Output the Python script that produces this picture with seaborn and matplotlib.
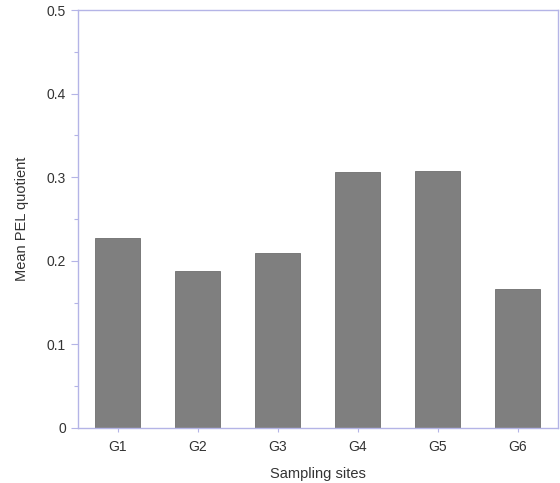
import matplotlib
matplotlib.use("Agg")
import matplotlib.pyplot as plt
import seaborn as sns
import pandas as pd
from matplotlib.ticker import MultipleLocator

sites = ["G1", "G2", "G3", "G4", "G5", "G6"]
mean_pel_q = [0.227, 0.188, 0.209, 0.306, 0.308, 0.166]
y_ticks = [0, 0.1, 0.2, 0.3, 0.4, 0.5]
y_labels = ["0", "0.1", "0.2", "0.3", "0.4", "0.5"]

df = pd.DataFrame({"site": sites, "q": mean_pel_q})

sns.set_style("white")
plt.rcParams["font.family"] = ["Liberation Sans", "DejaVu Sans"]

axis_col = "#b4b4e6"
fig = plt.figure(figsize=(5.6, 4.83), dpi=100)
ax = fig.add_axes([0.139, 0.114, 0.857, 0.865])
sns.barplot(data=df, x="site", y="q", color="#7f7f7f", saturation=1,
            width=0.56, edgecolor="#6e6e6e", linewidth=0.6, ax=ax)

ax.set_xlim(-0.5, 5.5)
ax.set_ylim(0, 0.5)
ax.set_yticks(y_ticks)
ax.set_yticklabels(y_labels)
ax.yaxis.set_minor_locator(MultipleLocator(0.05))

for s in ax.spines.values():
    s.set_visible(True)
    s.set_color(axis_col)
    s.set_linewidth(1.0)

ax.tick_params(axis="both", which="both", direction="out", colors=axis_col,
               labelcolor="#333333", labelsize=10)
ax.tick_params(axis="y", which="major", length=5, width=0.8, left=True)
ax.tick_params(axis="y", which="minor", length=3, width=0.8, left=True)
ax.tick_params(axis="x", which="major", length=3, width=0.8, bottom=True, pad=6)

ax.set_xlabel("Sampling sites", fontsize=10.5, color="#333333", labelpad=9)
ax.set_ylabel("Mean PEL quotient", fontsize=10.5, color="#333333", labelpad=13)

fig.savefig("out.png", dpi=100)
